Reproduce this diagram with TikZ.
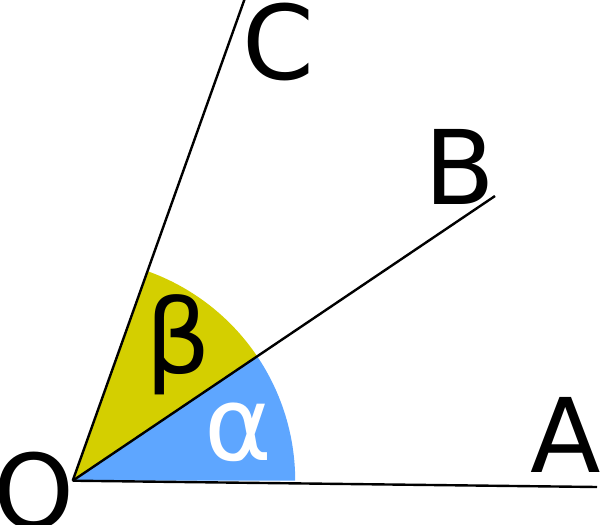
\documentclass[tikz,border=0pt]{standalone}
\usepackage{fontspec}
\setmainfont{DejaVu Sans}
\definecolor{sectorblue}{RGB}{94,166,255}
\definecolor{sectoryellow}{RGB}{212,207,0}
\begin{document}
\begin{tikzpicture}[x=1pt,y=-1pt,
  ray/.style={line width=2.4pt,black},
  lbl/.style={inner sep=0pt,anchor=center,font=\fontsize{103}{110}\selectfont}]
\useasboundingbox (0,0) rectangle (600,525);
\clip (0,0) rectangle (600,525);
\coordinate (O) at (72.7,480.7);
\coordinate (A) at (597,487);
\coordinate (B) at (495,196);
\coordinate (C) at (245,-2);
% sectors
\fill[sectorblue] (O) -- ++(0:222.5) arc[start angle=0,end angle=-34,radius=222.5] -- cycle;
\fill[sectoryellow] (O) -- ++(-34:222.5) arc[start angle=-34,end angle=-70.4,radius=222.5] -- cycle;
% rays
\draw[ray] (O) -- (A);
\draw[ray] (O) -- (B);
\draw[ray] (O) -- (C);
% labels
\node[lbl] (lC) at (278,42) {C};
\node[lbl] (lB) at (460,166.5) {B};
\node[lbl] (lA) at (566,434.5) {A};
\node[lbl] (lO) at (34,490.5) {O};
\node[lbl] (lbeta) at (178,345) {β};
\node[lbl,white] (lalpha) at (238,432) {α};
\end{tikzpicture}
\end{document}
